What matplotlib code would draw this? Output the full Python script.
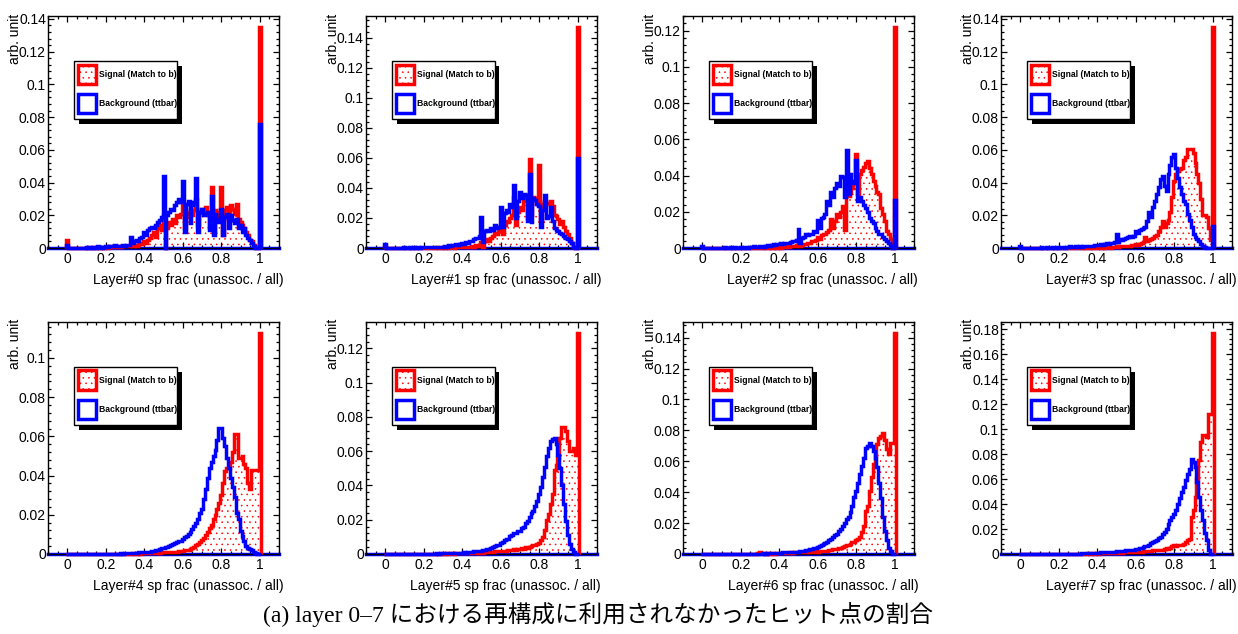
import matplotlib

matplotlib.use("Agg")
import matplotlib.pyplot as plt
import numpy as np
from matplotlib.patches import Rectangle
from matplotlib.ticker import FormatStrFormatter, MultipleLocator

OUTPUT_PATH = "out.png"

# Bin contents (arb. unit) for bins centred on 0.00, 0.01, ..., 1.00.
BIN_WIDTH = 0.01
X_RANGE = (-0.1, 1.1)

SIG_L0 = [
    0.005, 0, 0, 0, 0, 0, 0, 0, 0, 0,
    0, 0, 0, 0.0005, 0, 0, 0.0005, 0, 0.0005, 0,
    0.0005, 0, 0.001, 0.0005, 0.0005, 0.001, 0.0005, 0.001, 0.0005, 0.001,
    0.001, 0.0015, 0.001, 0.002, 0.001, 0.002, 0.0015, 0.002, 0.003, 0.0025,
    0.004, 0.003, 0.005, 0.006, 0.008, 0.010, 0.007, 0.012, 0.014, 0.011,
    0.020, 0.000, 0.012, 0.016, 0.014, 0.018, 0.015, 0.020, 0.019, 0.021,
    0.026, 0.012, 0.022, 0.019, 0.024, 0.020, 0.023, 0.030, 0.014, 0.022,
    0.024, 0.021, 0.025, 0.020, 0.012, 0.037, 0.010, 0.023, 0.022, 0.018,
    0.037, 0.008, 0.023, 0.025, 0.017, 0.026, 0.024, 0.021, 0.027, 0.018,
    0.016, 0.014, 0.012, 0.010, 0.008, 0.005, 0.004, 0.002, 0.000, 0.000,
    0.135,
]
BKG_L0 = [
    0.002, 0, 0, 0, 0, 0, 0, 0, 0, 0,
    0.0005, 0, 0.0005, 0, 0.0005, 0, 0.001, 0.0005, 0, 0.0005,
    0.001, 0.0005, 0.001, 0.001, 0.0015, 0.002, 0.001, 0.0015, 0.001, 0.002,
    0.0015, 0.002, 0.002, 0.007, 0.003, 0.004, 0.005, 0.004, 0.006, 0.007,
    0.010, 0.008, 0.011, 0.012, 0.013, 0.012, 0.014, 0.016, 0.017, 0.019,
    0.044, 0.000, 0.020, 0.022, 0.024, 0.023, 0.026, 0.028, 0.030, 0.028,
    0.041, 0.010, 0.027, 0.029, 0.015, 0.026, 0.028, 0.043, 0.010, 0.022,
    0.024, 0.020, 0.021, 0.022, 0.011, 0.032, 0.008, 0.021, 0.018, 0.016,
    0.024, 0.008, 0.019, 0.021, 0.012, 0.020, 0.017, 0.015, 0.018, 0.012,
    0.014, 0.010, 0.012, 0.008, 0.006, 0.005, 0.003, 0.001, 0.000, 0.000,
    0.076,
]

SIG_L1 = [
    0.001, 0, 0, 0, 0, 0, 0, 0, 0, 0,
    0, 0, 0, 0, 0, 0, 0, 0, 0, 0,
    0, 0, 0, 0, 0, 0, 0, 0.0005, 0, 0,
    0.0005, 0, 0.0005, 0, 0.0005, 0.0005, 0, 0.0005, 0.0005, 0.001,
    0.0005, 0.001, 0.0005, 0.001, 0.001, 0.0015, 0.001, 0.002, 0.0015, 0.002,
    0.004, 0.001, 0.005, 0.006, 0.005, 0.007, 0.008, 0.010, 0.009, 0.011,
    0.013, 0.009, 0.015, 0.018, 0.017, 0.020, 0.022, 0.034, 0.015, 0.024,
    0.027, 0.025, 0.031, 0.035, 0.020, 0.059, 0.022, 0.034, 0.033, 0.030,
    0.055, 0.018, 0.029, 0.031, 0.030, 0.029, 0.031, 0.028, 0.022, 0.021,
    0.019, 0.016, 0.018, 0.014, 0.011, 0.009, 0.007, 0.0035, 0.001, 0.000,
    0.147,
]
BKG_L1 = [
    0.003, 0, 0, 0, 0, 0, 0, 0, 0, 0,
    0.0005, 0, 0, 0.0005, 0, 0.0005, 0, 0.0005, 0, 0.0005,
    0.0005, 0.0005, 0.001, 0.0005, 0.0005, 0.001, 0.001, 0.0005, 0.001, 0.001,
    0.001, 0.0015, 0.001, 0.002, 0.0015, 0.002, 0.002, 0.0025, 0.002, 0.003,
    0.0035, 0.003, 0.004, 0.0035, 0.005, 0.005, 0.006, 0.007, 0.007, 0.008,
    0.0205, 0.004, 0.011, 0.012, 0.011, 0.013, 0.012, 0.015, 0.013, 0.014,
    0.027, 0.014, 0.023, 0.025, 0.024, 0.029, 0.027, 0.042, 0.020, 0.031,
    0.037, 0.033, 0.036, 0.035, 0.018, 0.049, 0.017, 0.033, 0.032, 0.029,
    0.028, 0.014, 0.025, 0.035, 0.020, 0.021, 0.027, 0.018, 0.0135, 0.012,
    0.011, 0.010, 0.009, 0.008, 0.007, 0.006, 0.005, 0.0035, 0.001, 0.000,
    0.060,
]

SIG_L2 = [
    0, 0, 0, 0, 0, 0, 0, 0, 0, 0,
    0, 0, 0, 0, 0, 0, 0, 0, 0, 0,
    0, 0, 0, 0, 0, 0, 0, 0, 0, 0,
    0, 0, 0.0005, 0, 0, 0.0005, 0, 0, 0.0005, 0,
    0.0005, 0, 0.0005, 0.0005, 0.001, 0.0005, 0.001, 0.001, 0.001, 0.0015,
    0.002, 0.001, 0.0015, 0.002, 0.002, 0.0025, 0.003, 0.004, 0.004, 0.0045,
    0.006, 0.005, 0.007, 0.008, 0.0075, 0.009, 0.010, 0.016, 0.011, 0.015,
    0.019, 0.017, 0.020, 0.023, 0.010, 0.030, 0.029, 0.031, 0.033, 0.036,
    0.052, 0.030, 0.041, 0.043, 0.045, 0.047, 0.048, 0.044, 0.041, 0.037,
    0.034, 0.031, 0.030, 0.022, 0.019, 0.015, 0.0094, 0.0075, 0.005, 0.000,
    0.122,
]
BKG_L2 = [
    0.001, 0, 0, 0, 0, 0, 0, 0, 0, 0,
    0, 0, 0.0005, 0, 0, 0.0005, 0, 0.0005, 0, 0,
    0.0005, 0, 0.0005, 0.0005, 0, 0.0005, 0.0005, 0.001, 0.0005, 0.0005,
    0.001, 0.001, 0.0005, 0.001, 0.0015, 0.001, 0.0015, 0.002, 0.0015, 0.002,
    0.002, 0.0025, 0.002, 0.003, 0.0025, 0.003, 0.0035, 0.004, 0.004, 0.0045,
    0.0107, 0.003, 0.0057, 0.006, 0.0075, 0.007, 0.0075, 0.008, 0.0094, 0.009,
    0.0154, 0.011, 0.0167, 0.017, 0.0186, 0.026, 0.024, 0.031, 0.028, 0.033,
    0.036, 0.034, 0.040, 0.039, 0.028, 0.054, 0.030, 0.041, 0.037, 0.036,
    0.0485, 0.026, 0.028, 0.026, 0.024, 0.022, 0.020, 0.0167, 0.015, 0.014,
    0.011, 0.0094, 0.008, 0.0075, 0.006, 0.0048, 0.004, 0.003, 0.001, 0.000,
    0.0265,
]

SIG_L3 = [
    0, 0, 0, 0, 0, 0, 0, 0, 0, 0,
    0, 0, 0, 0, 0, 0, 0, 0, 0, 0,
    0, 0, 0, 0, 0, 0, 0, 0, 0, 0,
    0, 0, 0, 0.0005, 0, 0, 0, 0.0005, 0, 0,
    0, 0.0005, 0, 0.0005, 0, 0.0005, 0.0005, 0, 0.0005, 0.0005,
    0.001, 0.0005, 0.001, 0.001, 0.001, 0.0015, 0.001, 0.0015, 0.002, 0.002,
    0.0025, 0.002, 0.0025, 0.003, 0.0035, 0.0065, 0.0045, 0.005, 0.0055, 0.006,
    0.0076, 0.008, 0.0106, 0.0127, 0.0168, 0.0127, 0.015, 0.017, 0.022, 0.031,
    0.041, 0.045, 0.047, 0.048, 0.049, 0.0535, 0.0556, 0.0607, 0.0607, 0.0607,
    0.058, 0.052, 0.045, 0.040, 0.030, 0.020, 0.020, 0.019, 0.012, 0.005,
    0.135,
]
BKG_L3 = [
    0.001, 0, 0, 0, 0, 0, 0, 0, 0, 0,
    0, 0.0005, 0, 0, 0.0005, 0, 0, 0.0005, 0, 0.0005,
    0, 0.0005, 0.0005, 0, 0.0005, 0.0005, 0.001, 0.0005, 0.0005, 0.001,
    0.0005, 0.001, 0.0005, 0.001, 0.001, 0.0015, 0.001, 0.0015, 0.0015, 0.002,
    0.002, 0.002, 0.0025, 0.002, 0.0025, 0.003, 0.0025, 0.003, 0.003, 0.0035,
    0.0086, 0.0035, 0.0055, 0.005, 0.0055, 0.006, 0.0065, 0.0076, 0.007, 0.0076,
    0.0106, 0.009, 0.011, 0.0115, 0.012, 0.0127, 0.0168, 0.022, 0.019, 0.025,
    0.029, 0.033, 0.037, 0.042, 0.044, 0.038, 0.035, 0.045, 0.051, 0.0556,
    0.0576, 0.049, 0.043, 0.037, 0.033, 0.029, 0.027, 0.021, 0.017, 0.0127,
    0.0086, 0.007, 0.0055, 0.0045, 0.0025, 0.0014, 0.0005, 0, 0, 0,
    0.0137,
]

SIG_L4 = [
    0, 0, 0, 0, 0, 0, 0, 0, 0, 0,
    0, 0, 0, 0, 0, 0, 0, 0, 0, 0,
    0, 0, 0, 0, 0, 0, 0, 0, 0, 0,
    0, 0, 0, 0, 0.0003, 0, 0, 0.0003, 0, 0.0003,
    0.0003, 0.0003, 0.0005, 0.0003, 0.0005, 0.0005, 0.0005, 0.0008, 0.0005, 0.0008,
    0.001, 0.0008, 0.001, 0.001, 0.001, 0.001, 0.0012, 0.0012, 0.0015, 0.0015,
    0.0015, 0.0018, 0.002, 0.0022, 0.0025, 0.003, 0.0035, 0.0044, 0.005, 0.006,
    0.0069, 0.008, 0.0095, 0.011, 0.0135, 0.015, 0.018, 0.020, 0.023, 0.026,
    0.030, 0.036, 0.0425, 0.044, 0.044, 0.047, 0.052, 0.061, 0.061, 0.049,
    0.049, 0.050, 0.046, 0.044, 0.036, 0.033, 0.043, 0.043, 0.043, 0.043,
    0.1127,
]
BKG_L4 = [
    0, 0, 0, 0, 0, 0, 0, 0, 0, 0,
    0, 0, 0, 0, 0, 0, 0, 0, 0, 0,
    0.0002, 0, 0.0002, 0, 0.0002, 0.0002, 0, 0.0002, 0.0003, 0.0002,
    0.0003, 0.0003, 0.0003, 0.0005, 0.0005, 0.0005, 0.0005, 0.0008, 0.0008, 0.0008,
    0.0008, 0.001, 0.001, 0.0012, 0.0015, 0.0015, 0.002, 0.002, 0.0025, 0.003,
    0.0033, 0.0035, 0.0038, 0.004, 0.0045, 0.005, 0.0055, 0.006, 0.0065, 0.0068,
    0.0075, 0.0085, 0.009, 0.010, 0.011, 0.013, 0.0145, 0.016, 0.018, 0.021,
    0.023, 0.028, 0.033, 0.039, 0.044, 0.047, 0.050, 0.053, 0.058, 0.0645,
    0.0645, 0.059, 0.055, 0.049, 0.044, 0.039, 0.034, 0.029, 0.021, 0.018,
    0.0118, 0.009, 0.0068, 0.004, 0.003, 0.0024, 0.002, 0.001, 0.0005, 0,
    0,
]

SIG_L5 = [
    0, 0, 0, 0, 0, 0, 0, 0, 0, 0,
    0, 0, 0, 0, 0, 0, 0, 0, 0, 0,
    0, 0, 0, 0, 0, 0, 0, 0, 0, 0,
    0.0003, 0, 0.0003, 0, 0.0003, 0.0003, 0, 0.0003, 0.0005, 0.0003,
    0.0005, 0.0003, 0.0005, 0.0005, 0.0008, 0.0005, 0.0008, 0.0008, 0.001, 0.0008,
    0.001, 0.0008, 0.001, 0.001, 0.0012, 0.0012, 0.0012, 0.0015, 0.0015, 0.0015,
    0.0018, 0.0018, 0.002, 0.002, 0.0022, 0.0025, 0.0025, 0.003, 0.0025, 0.003,
    0.003, 0.0035, 0.003, 0.004, 0.0035, 0.004, 0.0045, 0.005, 0.0055, 0.006,
    0.0065, 0.008, 0.010, 0.0138, 0.020, 0.0235, 0.029, 0.035, 0.049, 0.052,
    0.056, 0.068, 0.074, 0.074, 0.072, 0.066, 0.060, 0.060, 0.062, 0.058,
    0.129,
]
BKG_L5 = [
    0, 0, 0, 0, 0, 0, 0, 0, 0, 0,
    0, 0, 0, 0, 0, 0, 0, 0, 0, 0,
    0.0002, 0, 0.0002, 0.0002, 0, 0.0002, 0.0002, 0.0003, 0.0002, 0.0003,
    0.0003, 0.0003, 0.0005, 0.0003, 0.0005, 0.0005, 0.0005, 0.0008, 0.0005, 0.0008,
    0.0008, 0.001, 0.0008, 0.001, 0.0012, 0.0012, 0.0015, 0.0015, 0.0018, 0.002,
    0.002, 0.0022, 0.0025, 0.0028, 0.003, 0.0037, 0.004, 0.0045, 0.005, 0.0055,
    0.0065, 0.007, 0.008, 0.0085, 0.009, 0.0105, 0.011, 0.012, 0.012, 0.0135,
    0.0135, 0.015, 0.016, 0.018, 0.0195, 0.0215, 0.024, 0.025, 0.028, 0.031,
    0.035, 0.039, 0.045, 0.051, 0.057, 0.062, 0.066, 0.067, 0.068, 0.064,
    0.058, 0.050, 0.040, 0.029, 0.019, 0.011, 0.006, 0.003, 0.001, 0,
    0,
]

SIG_L6 = [
    0, 0, 0, 0, 0, 0, 0, 0, 0, 0,
    0, 0, 0, 0, 0, 0, 0, 0, 0, 0,
    0, 0, 0, 0, 0, 0, 0, 0, 0, 0.0005,
    0.001, 0.0005, 0.0005, 0.0003, 0.0005, 0.0003, 0.0005, 0.0005, 0.0003, 0.0005,
    0.0005, 0.0005, 0.0008, 0.0005, 0.0008, 0.0008, 0.001, 0.0008, 0.001, 0.001,
    0.001, 0.001, 0.0012, 0.0012, 0.0012, 0.0015, 0.0015, 0.0015, 0.0018, 0.0018,
    0.0015, 0.0018, 0.0018, 0.002, 0.002, 0.0022, 0.0025, 0.0028, 0.003, 0.003,
    0.0034, 0.0038, 0.004, 0.0045, 0.005, 0.0056, 0.006, 0.0065, 0.0077, 0.0077,
    0.009, 0.0095, 0.011, 0.014, 0.018, 0.028, 0.031, 0.041, 0.050, 0.058,
    0.064, 0.071, 0.075, 0.0763, 0.078, 0.074, 0.068, 0.065, 0.072, 0.072,
    0.143,
]
BKG_L6 = [
    0, 0, 0, 0, 0, 0, 0, 0, 0, 0,
    0, 0, 0, 0, 0, 0, 0, 0, 0, 0,
    0.0002, 0, 0.0002, 0, 0.0002, 0.0002, 0.0002, 0, 0.0002, 0.0003,
    0.0003, 0.0003, 0.0005, 0.0003, 0.0005, 0.0005, 0.0005, 0.0005, 0.0008, 0.0008,
    0.0008, 0.0008, 0.001, 0.001, 0.001, 0.0012, 0.0012, 0.0012, 0.0015, 0.0015,
    0.0015, 0.0018, 0.002, 0.002, 0.0024, 0.0027, 0.003, 0.0033, 0.0038, 0.0042,
    0.0046, 0.005, 0.0058, 0.0065, 0.007, 0.0078, 0.0088, 0.0095, 0.011, 0.012,
    0.013, 0.0148, 0.0163, 0.018, 0.020, 0.0225, 0.024, 0.027, 0.031, 0.0367,
    0.041, 0.046, 0.0517, 0.057, 0.062, 0.0688, 0.070, 0.072, 0.070, 0.0667,
    0.062, 0.056, 0.046, 0.036, 0.024, 0.015, 0.009, 0.004, 0.002, 0,
    0,
]

SIG_L7 = [
    0, 0, 0, 0, 0, 0, 0, 0, 0, 0,
    0, 0, 0, 0, 0, 0, 0, 0, 0, 0,
    0, 0, 0, 0, 0, 0, 0, 0, 0, 0,
    0, 0.0003, 0, 0.0003, 0, 0.0005, 0.0003, 0, 0.0005, 0.0003,
    0.0005, 0.0003, 0.0005, 0.0005, 0.0005, 0.0008, 0.0005, 0.0008, 0.0008, 0.001,
    0.0008, 0.001, 0.001, 0.001, 0.0012, 0.0012, 0.0012, 0.0015, 0.0012, 0.0015,
    0.0012, 0.0015, 0.0015, 0.0018, 0.002, 0.002, 0.0022, 0.0025, 0.0025, 0.003,
    0.003, 0.003, 0.0035, 0.0035, 0.003, 0.004, 0.0045, 0.004, 0.005, 0.006,
    0.007, 0.0065, 0.007, 0.0075, 0.007, 0.008, 0.010, 0.011, 0.012, 0.030,
    0.035, 0.0455, 0.060, 0.075, 0.090, 0.0955, 0.0955, 0.094, 0.112, 0.112,
    0.177,
]
BKG_L7 = [
    0, 0, 0, 0, 0, 0, 0, 0, 0, 0,
    0, 0, 0, 0, 0, 0, 0, 0, 0, 0,
    0.0002, 0, 0.0002, 0.0002, 0, 0.0002, 0.0002, 0.0002, 0.0003, 0.0003,
    0.0003, 0.0003, 0.0005, 0.0005, 0.0005, 0.0005, 0.0008, 0.0008, 0.0008, 0.001,
    0.001, 0.001, 0.0012, 0.0012, 0.0012, 0.0015, 0.0015, 0.0015, 0.0018, 0.0018,
    0.002, 0.002, 0.0022, 0.0025, 0.0025, 0.0028, 0.003, 0.003, 0.0033, 0.0035,
    0.004, 0.0042, 0.0045, 0.005, 0.0055, 0.006, 0.0068, 0.0075, 0.0085, 0.0095,
    0.0104, 0.0115, 0.0125, 0.014, 0.016, 0.018, 0.020, 0.024, 0.027, 0.030,
    0.032, 0.035, 0.040, 0.045, 0.0495, 0.054, 0.059, 0.064, 0.068, 0.076,
    0.074, 0.0695, 0.058, 0.0455, 0.035, 0.027, 0.017, 0.011, 0.003, 0,
    0,
]

SIGNALS = [SIG_L0, SIG_L1, SIG_L2, SIG_L3, SIG_L4, SIG_L5, SIG_L6, SIG_L7]
BACKGROUNDS = [BKG_L0, BKG_L1, BKG_L2, BKG_L3, BKG_L4, BKG_L5, BKG_L6, BKG_L7]
LAYERS = list(range(8))

SIGNAL_LABEL = "Signal (Match to b)"
BACKGROUND_LABEL = "Background (ttbar)"
Y_LABEL = "arb. unit"
CAPTION = "(a) layer 0\u20137 における再構成に利用されなかったヒット点の割合"

RED = "#ff0000"
BLUE = "#0000ff"
LINE_W = 2.5
DOTS = "..."

plt.rcParams.update(
    {
        "font.family": ["Liberation Sans", "DejaVu Sans"],
        "font.size": 10,
        "hatch.linewidth": 0.4,
        "axes.linewidth": 1.0,
    }
)


def _style_axis(ax, ymax):
    ax.set_xlim(*X_RANGE)
    ax.set_ylim(0, ymax)
    ax.xaxis.set_major_locator(MultipleLocator(0.2))
    ax.xaxis.set_minor_locator(MultipleLocator(0.05))
    ax.yaxis.set_major_locator(MultipleLocator(0.02))
    ax.yaxis.set_minor_locator(MultipleLocator(0.004))
    ax.xaxis.set_major_formatter(FormatStrFormatter("%g"))
    ax.yaxis.set_major_formatter(FormatStrFormatter("%g"))
    ax.tick_params(which="both", direction="in", top=True, right=True, width=0.9)
    ax.tick_params(which="major", length=4.0, labelsize=10)
    ax.tick_params(which="minor", length=2.0)
    ax.tick_params(axis="x", pad=3)
    ax.tick_params(axis="y", pad=1.5)


def _draw_legend(ax):
    box = (0.113, 0.556, 0.445, 0.25)
    shadow = Rectangle((box[0] + 0.02, box[1] - 0.022), box[2], box[3],
                       transform=ax.transAxes, facecolor="black", edgecolor="none", zorder=6)
    frame = Rectangle(box[:2], box[2], box[3], transform=ax.transAxes,
                      facecolor="white", edgecolor="black", linewidth=1.0, zorder=7)
    ax.add_patch(shadow)
    ax.add_patch(frame)

    sig_box = Rectangle((0.128, 0.708), 0.078, 0.083, transform=ax.transAxes,
                        facecolor="white", edgecolor=RED, linewidth=LINE_W, hatch=DOTS, zorder=8)
    bkg_box = Rectangle((0.128, 0.58), 0.078, 0.083, transform=ax.transAxes,
                        facecolor="white", edgecolor=BLUE, linewidth=LINE_W, zorder=8)
    ax.add_patch(sig_box)
    ax.add_patch(bkg_box)
    ax.text(0.222, 0.75, SIGNAL_LABEL, transform=ax.transAxes, fontsize=6.2,
            fontweight="bold", va="center", ha="left", zorder=9)
    ax.text(0.222, 0.622, BACKGROUND_LABEL, transform=ax.transAxes, fontsize=6.2,
            fontweight="bold", va="center", ha="left", zorder=9)


def plot_panel(ax, layer, sig, bkg):
    sig = np.asarray(sig, dtype=float)
    bkg = np.asarray(bkg, dtype=float)
    edges = (np.arange(len(sig) + 1) - 0.5) * BIN_WIDTH

    # dotted fill under the signal, then the outlines on top
    ax.stairs(sig, edges, fill=True, facecolor="white", edgecolor=RED,
              hatch=DOTS, linewidth=0, zorder=1)
    ax.axhline(0, color=BLUE, linewidth=LINE_W, zorder=2, clip_on=False)
    ax.stairs(sig, edges, color=RED, linewidth=LINE_W, zorder=3, clip_on=False)
    ax.stairs(bkg, edges, color=BLUE, linewidth=LINE_W, zorder=4, clip_on=False)

    ymax = 1.05 * max(sig.max(), bkg.max())
    _style_axis(ax, ymax)

    ax.text(1.018, -0.138, f"Layer#{layer} sp frac (unassoc. / all)", transform=ax.transAxes,
            ha="right", va="center", fontsize=10)
    ax.text(-0.143, 1.012, Y_LABEL, transform=ax.transAxes, rotation=90,
            ha="center", va="top", fontsize=10)
    _draw_legend(ax)


def main():
    fig = plt.figure(figsize=(12.38, 6.34), dpi=100)
    lefts = [0.0388, 0.2956, 0.5517, 0.8086]
    bottoms = [0.6088, 0.1262]
    width, height = 0.1866, 0.3659

    for idx, layer in enumerate(LAYERS):
        row, col = divmod(idx, 4)
        ax = fig.add_axes([lefts[col], bottoms[row], width, height])
        plot_panel(ax, layer, SIGNALS[idx], BACKGROUNDS[idx])

    fig.text(0.483, 0.03, CAPTION, ha="center", va="center", fontsize=17,
             family=["Liberation Serif", "Noto Sans CJK JP"])

    fig.savefig(OUTPUT_PATH, dpi=100)


if __name__ == "__main__":
    main()
